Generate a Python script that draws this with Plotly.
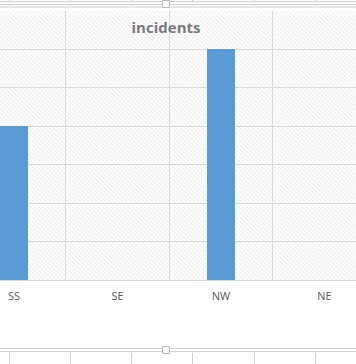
import plotly.graph_objects as go

categories = ["SS", "SE", "NW", "NE"]
incidents = [4, 0, 6, 0]
y_max = 7

W, H = 356, 364
top_px, bottom_px = 11, 280

def py(p):
    return (bottom_px - p) / (bottom_px - top_px)

def px(p):
    return p / W

fig = go.Figure()
# hatched plot-area background
fig.add_trace(go.Bar(
    x=categories, y=[y_max] * len(categories), width=1,
    marker=dict(color="#dadada", line=dict(width=0),
                pattern=dict(shape="\\", size=3, solidity=0.35, fgcolor="#dadada",
                             bgcolor="rgba(0,0,0,0)")),
    hoverinfo="skip", showlegend=False,
))
fig.add_trace(go.Bar(
    x=categories, y=incidents, width=0.27,
    marker=dict(color="#5b9bd5", line=dict(width=0)),
    name="incidents", showlegend=False,
))

shapes = []
line_col = "#d0d0d0"
# spreadsheet/selection decorations
for yy in (1.5, 4.5, 7.0, 348.5, 351.5):
    shapes.append(dict(type="line", xref="paper", yref="paper", x0=0, x1=1,
                       y0=py(yy), y1=py(yy), line=dict(color=line_col, width=1)))
for xx in (9.5, 70.5, 131.5, 192.5, 254.5, 315.5):
    shapes.append(dict(type="line", xref="paper", yref="paper", x0=px(xx), x1=px(xx),
                       y0=py(0), y1=py(2), line=dict(color=line_col, width=1)))
    shapes.append(dict(type="line", xref="paper", yref="paper", x0=px(xx), x1=px(xx),
                       y0=py(353), y1=py(364), line=dict(color=line_col, width=1)))
for (ya, yb) in ((0.5, 7.5), (346.5, 353.5)):
    shapes.append(dict(type="rect", xref="paper", yref="paper", x0=px(162.5), x1=px(169.5),
                       y0=py(yb), y1=py(ya), fillcolor="white", line=dict(color="#b8b8b8", width=1)))

fig.update_layout(
    width=W, height=H,
    margin=dict(l=0, r=0, t=top_px, b=H - bottom_px, pad=0),
    barmode="overlay",
    plot_bgcolor="white", paper_bgcolor="white",
    title=dict(text="<b>incidents</b>", x=166 / W, xanchor="center", y=1 - 28 / H, yanchor="middle",
               font=dict(family="Open Sans", size=15, color="#7a7a7a")),
    xaxis=dict(type="category", range=[-0.135, 3.305], tickson="boundaries",
               showgrid=True, gridcolor="#d9d9d9", gridwidth=1,
               showline=True, linecolor="#d9d9d9", linewidth=1,
               ticks="", ticklabelstandoff=6,
               tickfont=dict(family="Open Sans", size=11, color="#595959")),
    yaxis=dict(range=[0, y_max], dtick=1, showgrid=True, gridcolor="#d9d9d9", gridwidth=1,
               showticklabels=False, zeroline=False, showline=False),
    shapes=shapes,
    bargap=0,
)

fig.write_html("out.html")
